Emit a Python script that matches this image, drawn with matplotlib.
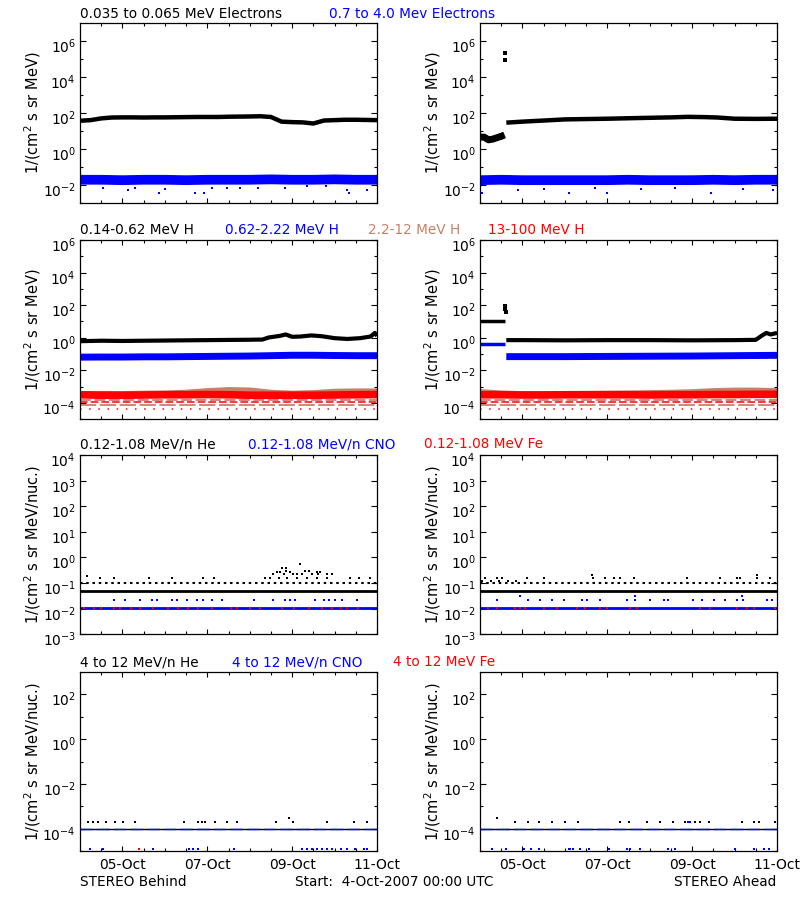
import numpy as np
import matplotlib.pyplot as plt
from matplotlib.ticker import FixedLocator, NullLocator, NullFormatter
from matplotlib.transforms import ScaledTranslation

plt.rcParams['font.family'] = 'DejaVu Sans'
plt.rcParams['mathtext.fontset'] = 'dejavusans'

BLUE = '#0000FF'
RED = '#FF0000'
BROWN = '#C8806A'

# ---- time axis: days after 4-Oct-2007 00:00 UTC
day_ticks = [1, 3, 5, 7]
day_labels = ['05-Oct', '07-Oct', '09-Oct', '11-Oct']
half_day_ticks = [0.5, 1.5, 2, 2.5, 3.5, 4, 4.5, 5.5, 6, 6.5]

t_q = [0, 0.25, 0.5, 0.75, 1, 1.25, 1.5, 1.75, 2, 2.25, 2.5, 2.75, 3, 3.25, 3.5,
       3.75, 4, 4.25, 4.5, 4.75, 5, 5.25, 5.5, 5.75, 6, 6.25, 6.5, 6.75, 7]
t_h = [0, 0.5, 1, 1.5, 2, 2.5, 3, 3.5, 4, 4.5, 5, 5.5, 6, 6.5, 7]

# ---- row 1: electrons
beh_e_low = [37, 40, 50, 56, 57, 57, 56, 57, 57, 58, 59, 60, 60, 60, 62,
             63, 64, 66, 60, 33, 31, 30, 26, 38, 40, 42, 42, 41, 40]
beh_e_high = [0.019, 0.019, 0.018, 0.019, 0.019, 0.018, 0.019, 0.019,
              0.019, 0.020, 0.019, 0.019, 0.020, 0.019, 0.019]
beh_e_out_t = [0.55, 1.14, 1.3, 1.87, 2.0, 2.72, 2.93, 3.1, 3.46, 3.78, 4.2,
               4.84, 5.35, 5.8, 6.3, 6.34, 6.76]
beh_e_out_v = [0.007, 0.0049, 0.007, 0.0035, 0.006, 0.0035, 0.0035, 0.007,
               0.0067, 0.0067, 0.007, 0.0067, 0.008, 0.008, 0.0048, 0.0035, 0.0048]

ahd_e_low_t1 = [0, 0.1, 0.2, 0.3, 0.4, 0.5, 0.58]
ahd_e_low_v1 = [4.5, 4.5, 3.2, 3.5, 4.2, 5, 6]
ahd_e_spike_t = [0.59, 0.585]
ahd_e_spike_v = [2.1e5, 8.8e4]
ahd_e_low_t2 = [0.62, 1.0, 1.5, 2.0, 2.5, 3.0, 3.5, 4.0, 4.5, 4.9, 5.3, 5.6, 6.0, 6.5, 7.0]
ahd_e_low_v2 = [29, 33, 38, 44, 46, 48, 51, 54, 57, 61, 59, 56, 48, 47, 48]
ahd_e_high = [0.018, 0.019, 0.018, 0.018, 0.018, 0.018, 0.018, 0.019,
              0.018, 0.018, 0.018, 0.019, 0.018, 0.019, 0.019]
ahd_e_out_t = [0.05, 0.9, 1.5, 2.1, 2.7, 3.0, 3.8, 4.6, 5.45, 6.2, 6.9]
ahd_e_out_v = [0.0035, 0.0049, 0.006, 0.0035, 0.0067, 0.0035, 0.006, 0.0067,
               0.0035, 0.006, 0.0049]

# ---- row 2: protons
beh_h1_t = [0, 0.5, 1, 1.5, 2, 2.5, 3, 3.5, 4, 4.3, 4.45, 4.7, 4.85, 5.0, 5.2,
            5.45, 5.7, 6.0, 6.3, 6.6, 6.85, 6.95, 7.0]
beh_h1_v = [0.62, 0.66, 0.64, 0.66, 0.68, 0.70, 0.72, 0.74, 0.76, 0.78, 1.05,
            1.3, 1.6, 1.15, 1.2, 1.4, 1.25, 0.95, 0.85, 0.95, 1.2, 2.0, 1.3]
beh_h2_v = [0.065, 0.066, 0.066, 0.068, 0.068, 0.070, 0.072, 0.074, 0.076,
            0.080, 0.085, 0.085, 0.082, 0.080, 0.080]
beh_h3_v = [3.3e-4, 3.4e-4, 3.3e-4, 3.5e-4, 3.6e-4, 4.0e-4, 5.0e-4, 5.8e-4,
            5.5e-4, 4.0e-4, 3.5e-4, 3.8e-4, 4.6e-4, 4.8e-4, 4.8e-4]
beh_h4_v = [3.2e-4, 3.0e-4, 3.0e-4, 3.1e-4, 3.2e-4, 3.2e-4, 3.3e-4, 3.2e-4,
            3.0e-4, 3.0e-4, 3.0e-4, 3.0e-4, 3.1e-4, 3.2e-4, 3.3e-4]

ahd_h1_t1 = [0, 0.58]
ahd_h1_v1 = [10.8, 10.8]
ahd_h1_spike_t = [0.6, 0.6, 0.61]
ahd_h1_spike_v = [93, 60, 36]
ahd_h1_t2 = [0.62, 1, 2, 3, 4, 5, 6, 6.5, 6.65, 6.75, 6.85, 7.0]
ahd_h1_v2 = [0.72, 0.72, 0.70, 0.72, 0.72, 0.70, 0.72, 0.75, 1.4, 2.0, 1.6, 2.0]
ahd_h2_t1 = [0, 0.58]
ahd_h2_v1 = [0.44, 0.44]
ahd_h2_t2 = [0.62, 1, 2, 3, 4, 5, 6, 7]
ahd_h2_v2 = [0.070, 0.070, 0.070, 0.072, 0.074, 0.076, 0.080, 0.084]
ahd_h3_v = [4.4e-4, 3.6e-4, 3.3e-4, 3.3e-4, 3.3e-4, 3.4e-4, 3.5e-4, 3.6e-4,
            3.8e-4, 4.0e-4, 4.3e-4, 5.0e-4, 5.4e-4, 5.4e-4, 5.0e-4]
ahd_h4_v = [3.2e-4, 3.2e-4, 3.1e-4, 3.1e-4, 3.2e-4, 3.2e-4, 3.2e-4, 3.2e-4,
            3.1e-4, 3.2e-4, 3.2e-4, 3.3e-4, 3.3e-4, 3.4e-4, 3.4e-4]

# count-floor levels of the 2.2-12 and 13-100 MeV channels
h3_floor = [1.48e-4, 7.2e-5]
h4_floor = [1.1e-4, 4.5e-5]

# ---- row 3: 0.12-1.08 MeV/n heavy ions
low_he_floor = 0.050
low_he_level = 0.097
low_cno_level = 0.0103

beh_lhe_t = [0.17, 0.47, 0.79, 1.63, 2.16, 2.91, 3.15, 6.37, 6.57, 6.83,
             4.77, 4.85, 5.19, 4.64, 4.72, 4.86, 4.94, 5.31, 5.39, 5.58, 5.66,
             4.56, 4.80, 5.03, 5.11, 5.23, 5.47, 5.62, 5.82, 5.94,
             4.37, 4.48, 4.68, 4.88, 5.11, 5.35, 5.58, 5.82]
beh_lhe_v = [0.19, 0.153, 0.153, 0.153, 0.153, 0.153, 0.153, 0.153, 0.153, 0.153,
             0.40, 0.40, 0.54, 0.26, 0.26, 0.30, 0.26, 0.30, 0.30, 0.26, 0.26,
             0.22, 0.22, 0.22, 0.22, 0.22, 0.22, 0.22, 0.22, 0.22,
             0.153, 0.153, 0.153, 0.153, 0.153, 0.153, 0.153, 0.153]
beh_lcno_t = [0.79, 1.06, 1.42, 1.69, 1.81, 2.16, 2.28, 2.52, 2.75, 2.91, 3.11,
              3.34, 4.09, 4.56, 4.84, 4.96, 5.07, 5.55, 5.74, 5.86, 6.02, 6.17, 6.53]
beh_lcno_v = [0.022] * 23
beh_lfe_t = [0.1, 0.33, 0.5, 0.8, 0.95, 1.2, 1.42, 1.73, 2.08, 2.32, 2.55, 2.78,
             3.1, 3.55, 3.7, 4.0, 4.25, 4.75, 5.05, 5.4, 5.7, 5.95, 6.15, 6.3, 6.55]

ahd_lhe_t = [0.12, 0.39, 0.51, 1.10, 1.50, 2.67, 2.95, 3.15, 3.30, 3.62, 4.88,
             5.66, 6.06, 6.13, 6.53, 6.84, 2.63, 6.53, 0.05, 0.25, 0.45, 0.65, 0.85]
ahd_lhe_v = [0.153, 0.153, 0.153, 0.153, 0.153, 0.153, 0.153, 0.153, 0.153,
             0.153, 0.153, 0.153, 0.153, 0.153, 0.153, 0.153, 0.20, 0.20,
             0.12, 0.12, 0.12, 0.12, 0.12]
ahd_lcno_t = [0.39, 1.14, 1.42, 1.69, 1.97, 2.40, 2.52, 2.83, 3.46, 3.66, 4.01,
              4.33, 4.44, 5.03, 5.23, 5.51, 5.78, 6.06, 6.21, 6.76, 6.88,
              0.95, 3.66, 6.17]
ahd_lcno_v = [0.022] * 21 + [0.030, 0.030, 0.030]
ahd_lfe_t = [0.2, 0.39, 0.83, 0.95, 1.06, 1.50, 1.81, 2.28, 2.48, 2.83, 2.99,
             3.54, 3.70, 5.19, 5.43, 6.06, 6.29, 6.45, 6.96]

# ---- row 4: 4-12 MeV/n heavy ions
high_floor = 1.0e-4
beh_hhe_t = [0.20, 0.31, 0.43, 0.61, 0.83, 1.02, 1.30, 2.44, 2.79, 2.87, 2.95,
             3.19, 3.46, 3.70, 4.62, 4.92, 5.03, 5.82, 6.45, 6.76]
beh_hhe_v = [1.96e-4] * 15 + [3.0e-4] + [1.96e-4] * 4
beh_hcno_t = [0.24, 0.55, 1.73, 2.56, 2.67, 2.79, 3.62, 5.23, 5.35, 5.47, 5.59,
              5.71, 5.82, 5.94, 6.14, 6.29, 6.49, 6.69, 6.77]
beh_hcno_v = [1.3e-5] * 19
beh_hfe_t = [1.38]
beh_hfe_v = [1.3e-5]

ahd_hhe_t = [0.39, 0.83, 1.12, 1.40, 1.69, 2.01, 2.30, 3.30, 3.50, 3.93, 4.25,
             4.55, 4.84, 4.96, 5.07, 5.19, 5.39, 6.17, 6.45, 6.57, 6.96]
ahd_hhe_v = [3.0e-4] + [1.96e-4] * 20
ahd_hcno_t = [0.28, 0.61, 1.04, 1.20, 1.38, 2.09, 2.13, 2.20, 2.36, 2.56, 3.03,
              3.46, 3.54, 3.76, 4.44, 4.60, 6.02, 6.45, 6.69, 6.81, 4.90, 4.96]
ahd_hcno_v = [1.3e-5] * 20 + [1.96e-4, 1.96e-4]

W, H = 800, 900
fig = plt.figure(figsize=(8, 9), dpi=100)
label_shift = ScaledTranslation(0, -3 / 72, fig.dpi_scale_trans)


def px_axes(x0, y0, x1, y1):
    return fig.add_axes([x0 / W, 1 - y1 / H, (x1 - x0) / W, (y1 - y0) / H])


def style(ax, ylim, ymaj, ymin, bottom_labels=False):
    ax.set_yscale('log')
    ax.set_xlim(0, 7)
    ax.set_ylim(*ylim)
    ax.yaxis.set_major_locator(FixedLocator(ymaj))
    if ymin:
        ax.yaxis.set_minor_locator(FixedLocator(ymin))
    else:
        ax.yaxis.set_minor_locator(NullLocator())
    ax.yaxis.set_minor_formatter(NullFormatter())
    ax.set_xticks(day_ticks)
    ax.set_xticks(half_day_ticks, minor=True)
    if bottom_labels:
        ax.set_xticklabels(day_labels)
    else:
        ax.set_xticklabels([])
    ax.tick_params(which='both', direction='in', top=True, right=True,
                   labelsize=10, width=0.8, pad=3)
    ax.tick_params(which='major', length=4.3)
    ax.tick_params(which='minor', length=2.5)
    ax.tick_params(axis='x', which='major', length=3.5, labelsize=10, pad=5)
    for s in ax.spines.values():
        s.set_linewidth(0.9)
    # IDL puts the "10" of each tick label a little below the tick
    for t in ax.get_yticklabels():
        t.set_transform(t.get_transform() + label_shift)


def label(x, y, s, c='black', ha='left'):
    fig.text(x / W, 1 - y / H, s, color=c, fontsize=9.8, ha=ha, va='baseline')


def ylabel(x0, row, s):
    fig.text((x0 - 47) / W, 1 - (row[0] + row[1]) / 2 / H, s, rotation=90,
             ha='center', va='center', fontsize=10.5)


ylab1 = '1/(cm$^2$ s sr MeV)'
ylab2 = '1/(cm$^2$ s sr MeV/nuc.)'
cols = [(80, 377), (480, 777)]
rows = [(23.3, 202.7), (240, 419.3), (455, 634.3), (672, 851.3)]

# ---------- row 1
for c, (x0, x1) in enumerate(cols):
    ax = px_axes(x0, rows[0][0], x1, rows[0][1])
    style(ax, (1e-3, 1e7), [1e-2, 1, 1e2, 1e4, 1e6], [1e-3, 1e-1, 1e1, 1e3, 1e5])
    if c == 0:
        ax.plot(t_q, beh_e_low, color='black', lw=3.2, solid_capstyle='butt')
        ax.plot(t_h, beh_e_high, color=BLUE, lw=7, solid_capstyle='butt')
        ax.plot(beh_e_out_t, beh_e_out_v, 's', color=BLUE, ms=1.8, mew=0)
    else:
        ax.plot(ahd_e_low_t1, ahd_e_low_v1, color='black', lw=5, solid_capstyle='butt')
        ax.plot(ahd_e_spike_t, ahd_e_spike_v, 's', color='black', ms=2.2, mew=0)
        ax.plot(ahd_e_low_t2, ahd_e_low_v2, color='black', lw=3.2, solid_capstyle='butt')
        ax.plot(t_h, ahd_e_high, color=BLUE, lw=7, solid_capstyle='butt')
        ax.plot(ahd_e_out_t, ahd_e_out_v, 's', color=BLUE, ms=1.8, mew=0)
    ylabel(x0, rows[0], ylab1)

# ---------- row 2
for c, (x0, x1) in enumerate(cols):
    ax = px_axes(x0, rows[1][0], x1, rows[1][1])
    style(ax, (1e-5, 1e6), [1e-4, 1e-2, 1, 1e2, 1e4, 1e6], [1e-5, 1e-3, 1e-1, 1e1, 1e3, 1e5])
    for lvl, dash in zip(h3_floor, [(6, 2), (9, 2)]):
        ax.plot([0, 7], [lvl, lvl], color=BROWN, lw=1.3, dashes=dash)
    for lvl, dash in zip(h4_floor, [(5, 2), (1, 5)]):
        ax.plot([0, 7], [lvl, lvl], color=RED, lw=1.1, dashes=dash)
    if c == 0:
        ax.plot(t_h, beh_h3_v, color=BROWN, lw=5, solid_capstyle='butt')
        ax.plot(t_h, beh_h4_v, color=RED, lw=5.5, solid_capstyle='butt')
        ax.plot(t_h, beh_h2_v, color=BLUE, lw=5, solid_capstyle='butt')
        ax.plot(beh_h1_t, beh_h1_v, color='black', lw=3, solid_capstyle='butt')
    else:
        ax.plot(t_h, ahd_h3_v, color=BROWN, lw=5, solid_capstyle='butt')
        ax.plot(t_h, ahd_h4_v, color=RED, lw=5.5, solid_capstyle='butt')
        ax.plot(ahd_h2_t1, ahd_h2_v1, color=BLUE, lw=2.5, solid_capstyle='butt')
        ax.plot(ahd_h2_t2, ahd_h2_v2, color=BLUE, lw=5, solid_capstyle='butt')
        ax.plot(ahd_h1_t1, ahd_h1_v1, color='black', lw=2.5, solid_capstyle='butt')
        ax.plot(ahd_h1_spike_t, ahd_h1_spike_v, 's', color='black', ms=2.2, mew=0)
        ax.plot(ahd_h1_t2, ahd_h1_v2, color='black', lw=3, solid_capstyle='butt')
    ylabel(x0, rows[1], ylab1)

# ---------- row 3
for c, (x0, x1) in enumerate(cols):
    ax = px_axes(x0, rows[2][0], x1, rows[2][1])
    style(ax, (1e-3, 1e4), [1e-3, 1e-2, 1e-1, 1, 1e1, 1e2, 1e3, 1e4], None)
    ax.plot([0, 7], [low_he_floor, low_he_floor], color='black', lw=2)
    ax.plot([0, 7], [low_he_level, low_he_level], color='black', lw=1.5, dashes=(1.2, 1.8))
    ax.plot([0, 7], [low_cno_level, low_cno_level], color=BLUE, lw=2)
    if c == 0:
        ax.plot(beh_lhe_t, beh_lhe_v, 's', color='black', ms=2, mew=0)
        ax.plot(beh_lcno_t, beh_lcno_v, 's', color=BLUE, ms=2, mew=0)
        ax.plot(beh_lfe_t, [low_cno_level] * len(beh_lfe_t), 's', color=RED, ms=1.8, mew=0)
    else:
        ax.plot(ahd_lhe_t, ahd_lhe_v, 's', color='black', ms=2, mew=0)
        ax.plot(ahd_lcno_t, ahd_lcno_v, 's', color=BLUE, ms=2, mew=0)
        ax.plot(ahd_lfe_t, [low_cno_level] * len(ahd_lfe_t), 's', color=RED, ms=1.8, mew=0)
    ylabel(x0, rows[2], ylab2)

# ---------- row 4
for c, (x0, x1) in enumerate(cols):
    ax = px_axes(x0, rows[3][0], x1, rows[3][1])
    style(ax, (1e-5, 1e3), [1e-4, 1e-2, 1, 1e2], [1e-5, 1e-3, 1e-1, 1e1], bottom_labels=True)
    ax.plot([0, 7], [high_floor, high_floor], color='black', lw=1)
    ax.plot([0, 7], [high_floor, high_floor], color=BLUE, lw=1, dashes=(9, 3))
    if c == 0:
        ax.plot(beh_hhe_t, beh_hhe_v, 's', color='black', ms=2, mew=0)
        ax.plot(beh_hcno_t, beh_hcno_v, 's', color=BLUE, ms=2, mew=0)
        ax.plot(beh_hfe_t, beh_hfe_v, 's', color=RED, ms=2, mew=0)
    else:
        ax.plot(ahd_hhe_t, ahd_hhe_v, 's', color='black', ms=2, mew=0)
        ax.plot(ahd_hcno_t, ahd_hcno_v, 's', color=BLUE, ms=2, mew=0)
    ylabel(x0, rows[3], ylab2)

# ---------- channel labels
label(80, 18, '0.035 to 0.065 MeV Electrons')
label(329, 18, '0.7 to 4.0 Mev Electrons', BLUE)
label(80, 234, '0.14-0.62 MeV H')
label(225, 234, '0.62-2.22 MeV H', BLUE)
label(368, 234, '2.2-12 MeV H', BROWN)
label(488, 234, '13-100 MeV H', RED)
label(80, 448, '0.12-1.08 MeV/n He')
label(248, 448, '0.12-1.08 MeV/n CNO', BLUE)
label(424, 448, '0.12-1.08 MeV Fe', RED)
label(80, 666, '4 to 12 MeV/n He')
label(232, 666, '4 to 12 MeV/n CNO', BLUE)
label(393, 666, '4 to 12 MeV Fe', RED)

label(80, 886, 'STEREO Behind')
label(295, 886, 'Start:  4-Oct-2007 00:00 UTC')
label(776, 886, 'STEREO Ahead', ha='right')

fig.savefig('out.png', dpi=100, facecolor='white')
